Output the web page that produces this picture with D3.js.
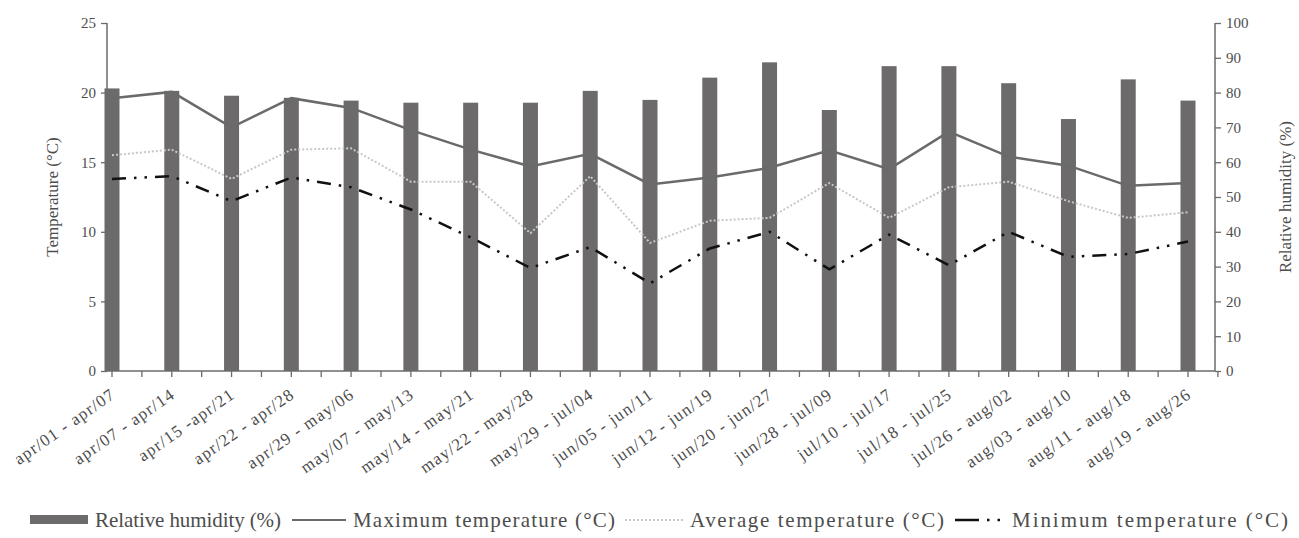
<!DOCTYPE html>
<html>
<head>
<meta charset="utf-8">
<script src="https://cdn.jsdelivr.net/npm/d3@7"></script>
<style>
  body { margin: 0; background: #fff; }
  svg text { font-family: "Liberation Serif", "DejaVu Serif", serif; fill: #4d4d4d; }
</style>
</head>
<body>
<svg id="chart" width="1299" height="538"></svg>
<script>
// data
var weeks = ["apr/01 - apr/07", "apr/07 - apr/14", "apr/15 -apr/21", "apr/22 - apr/28",
    "apr/29 - may/06", "may/07 - may/13", "may/14 - may/21", "may/22 - may/28",
    "may/29 - jul/04", "jun/05 - jun/11", "jun/12 - jun/19", "jun/20 - jun/27",
    "jun/28 - jul/09", "jul/10 - jul/17", "jul/18 - jul/25", "jul/26 - aug/02",
    "aug/03 - aug/10", "aug/11 - aug/18", "aug/19 - aug/26"];
var humidity = [81.2, 80.5, 79.1, 78.5, 77.7, 77.1, 77.1, 77.1, 80.5, 77.9,
    84.3, 88.7, 75.0, 87.6, 87.6, 82.7, 72.4, 83.8, 77.7];
var maxTemp = [19.6, 20.05, 17.5, 19.6, 18.9, 17.3, 15.9, 14.7, 15.6, 13.4,
    13.9, 14.6, 15.85, 14.5, 17.2, 15.4, 14.75, 13.3, 13.5];
var avgTemp = [15.5, 15.9, 13.8, 15.9, 16.0, 13.6, 13.6, 9.9, 14.0, 9.2,
    10.8, 11.0, 13.5, 11.0, 13.2, 13.6, 12.2, 11.0, 11.4];
var minTemp = [13.8, 14.0, 12.2, 13.9, 13.2, 11.6, 9.6, 7.4, 8.9, 6.3,
    8.8, 10.0, 7.3, 9.8, 7.6, 10.0, 8.2, 8.4, 9.3];
var tempTicks = [0, 5, 10, 15, 20, 25];
var humTicks = [0, 10, 20, 30, 40, 50, 60, 70, 80, 90, 100];

function drawChart() {
    var svg = d3.select("#chart");
    var left = 107, right = 1215, top = 23, bottom = 371;
    var axisColor = "#6b6b6b";

    var x = d3.scalePoint()
        .domain(weeks)
        .range([left + 5, right - 27]);
    var yT = d3.scaleLinear().domain([0, 25]).range([bottom, top]);
    var yH = d3.scaleLinear().domain([0, 100]).range([bottom, top]);

    // bars (relative humidity)
    svg.append("g")
        .selectAll("rect")
        .data(humidity)
        .enter()
        .append("rect")
        .attr("x", (d, i) => x(weeks[i]) - 7.5)
        .attr("width", 15)
        .attr("y", d => yH(d))
        .attr("height", d => bottom - yH(d))
        .attr("fill", "#6d6a6b");

    // left axis
    var leftAxis = svg.append("g")
        .attr("transform", "translate(" + left + ",0)")
        .call(d3.axisLeft(yT).tickValues(tempTicks).tickSize(6).tickPadding(5));
    // right axis
    var rightAxis = svg.append("g")
        .attr("transform", "translate(" + right + ",0)")
        .call(d3.axisRight(yH).tickValues(humTicks).tickSize(6).tickPadding(5));

    [leftAxis, rightAxis].forEach(g => {
        g.select(".domain").attr("stroke", axisColor).attr("stroke-width", 1.5)
            .attr("d", "M0," + top + "V" + bottom);
        g.selectAll(".tick line").attr("stroke", axisColor).attr("stroke-width", 1.3);
        g.selectAll(".tick text").attr("font-size", 15).attr("font-family", "Liberation Serif")
            .attr("fill", "#4d4d4d");
    });

    // x axis baseline with ticks at categories and between them
    var step = x.step();
    var tickPos = [];
    weeks.forEach((w, i) => {
        tickPos.push(x(w));
        tickPos.push(x(w) - step / 2);
    });
    tickPos.push(x(weeks[weeks.length - 1]) + step / 2);
    var xg = svg.append("g");
    xg.append("line")
        .attr("x1", left).attr("x2", right)
        .attr("y1", bottom).attr("y2", bottom)
        .attr("stroke", axisColor).attr("stroke-width", 1.5);
    xg.selectAll(".xt")
        .data(tickPos.filter(p => p > left + 2))
        .enter()
        .append("line")
        .attr("x1", d => d).attr("x2", d => d)
        .attr("y1", bottom).attr("y2", bottom + 6)
        .attr("stroke", axisColor).attr("stroke-width", 1.3);
    xg.selectAll(".xl")
        .data(weeks)
        .enter()
        .append("text")
        .attr("transform", d => "translate(" + (x(d) + 1) + "," + (bottom + 21) + ") rotate(-35)")
        .attr("text-anchor", "end")
        .attr("dy", "0.35em")
        .attr("font-size", 17)
        .attr("letter-spacing", 1.2)
        .attr("fill", "#333")
        .text(d => d);

    // lines
    var line = yScale => d3.line()
        .x((d, i) => x(weeks[i]))
        .y(d => yScale(d));

    svg.append("path")
        .attr("d", line(yT)(avgTemp))
        .attr("fill", "none")
        .attr("stroke", "#c8c8c8")
        .attr("stroke-width", 2)
        .attr("stroke-dasharray", "2,2");
    svg.append("path")
        .attr("d", line(yT)(minTemp))
        .attr("fill", "none")
        .attr("stroke", "#111")
        .attr("stroke-width", 2.5)
        .attr("stroke-dasharray", "14,8,2.5,8,2.5,8");
    svg.append("path")
        .attr("d", line(yT)(maxTemp))
        .attr("fill", "none")
        .attr("stroke", "#6a6a6a")
        .attr("stroke-width", 2.5);

    // axis titles
    svg.append("text")
        .attr("transform", "translate(58," + ((top + bottom) / 2) + ") rotate(-90)")
        .attr("text-anchor", "middle")
        .attr("font-size", 17)
        .text("Temperature (°C)");
    svg.append("text")
        .attr("transform", "translate(1291," + ((top + bottom) / 2) + ") rotate(-90)")
        .attr("text-anchor", "middle")
        .attr("font-size", 17)
        .text("Relative humidity (%)");

    // legend
    var lg = svg.append("g").attr("transform", "translate(0,520)");
    var items = [
        {label: "Relative humidity (%)", x: 30, w: 58, tw: 186, type: "bar"},
        {label: "Maximum temperature (°C)", x: 292, w: 54, tw: 262, type: "max"},
        {label: "Average temperature (°C)", x: 625, w: 58, tw: 254, type: "avg"},
        {label: "Minimum temperature (°C)", x: 955, w: 50, tw: 276, type: "min"}
    ];
    items.forEach(it => {
        if (it.type === "bar") {
            lg.append("rect").attr("x", it.x).attr("y", -5).attr("width", it.w).attr("height", 9)
                .attr("fill", "#6d6a6b");
        } else {
            var ln = lg.append("line").attr("x1", it.x).attr("x2", it.x + it.w)
                .attr("y1", 0).attr("y2", 0).attr("fill", "none");
            if (it.type === "max") ln.attr("stroke", "#6a6a6a").attr("stroke-width", 2);
            if (it.type === "avg") ln.attr("stroke", "#c8c8c8").attr("stroke-width", 2).attr("stroke-dasharray", "2,2");
            if (it.type === "min") ln.attr("stroke", "#111").attr("stroke-width", 2.5).attr("stroke-dasharray", "24,8,2.5,8,2.5,8");
        }
        lg.append("text")
            .attr("x", it.x + it.w + 7)
            .attr("y", 0)
            .attr("dy", "0.35em")
            .attr("font-size", 21)
            .attr("textLength", it.tw)
            .attr("lengthAdjust", "spacing")
            .attr("fill", "#222")
            .text(it.label);
    });
}

drawChart();
</script>
</body>
</html>
